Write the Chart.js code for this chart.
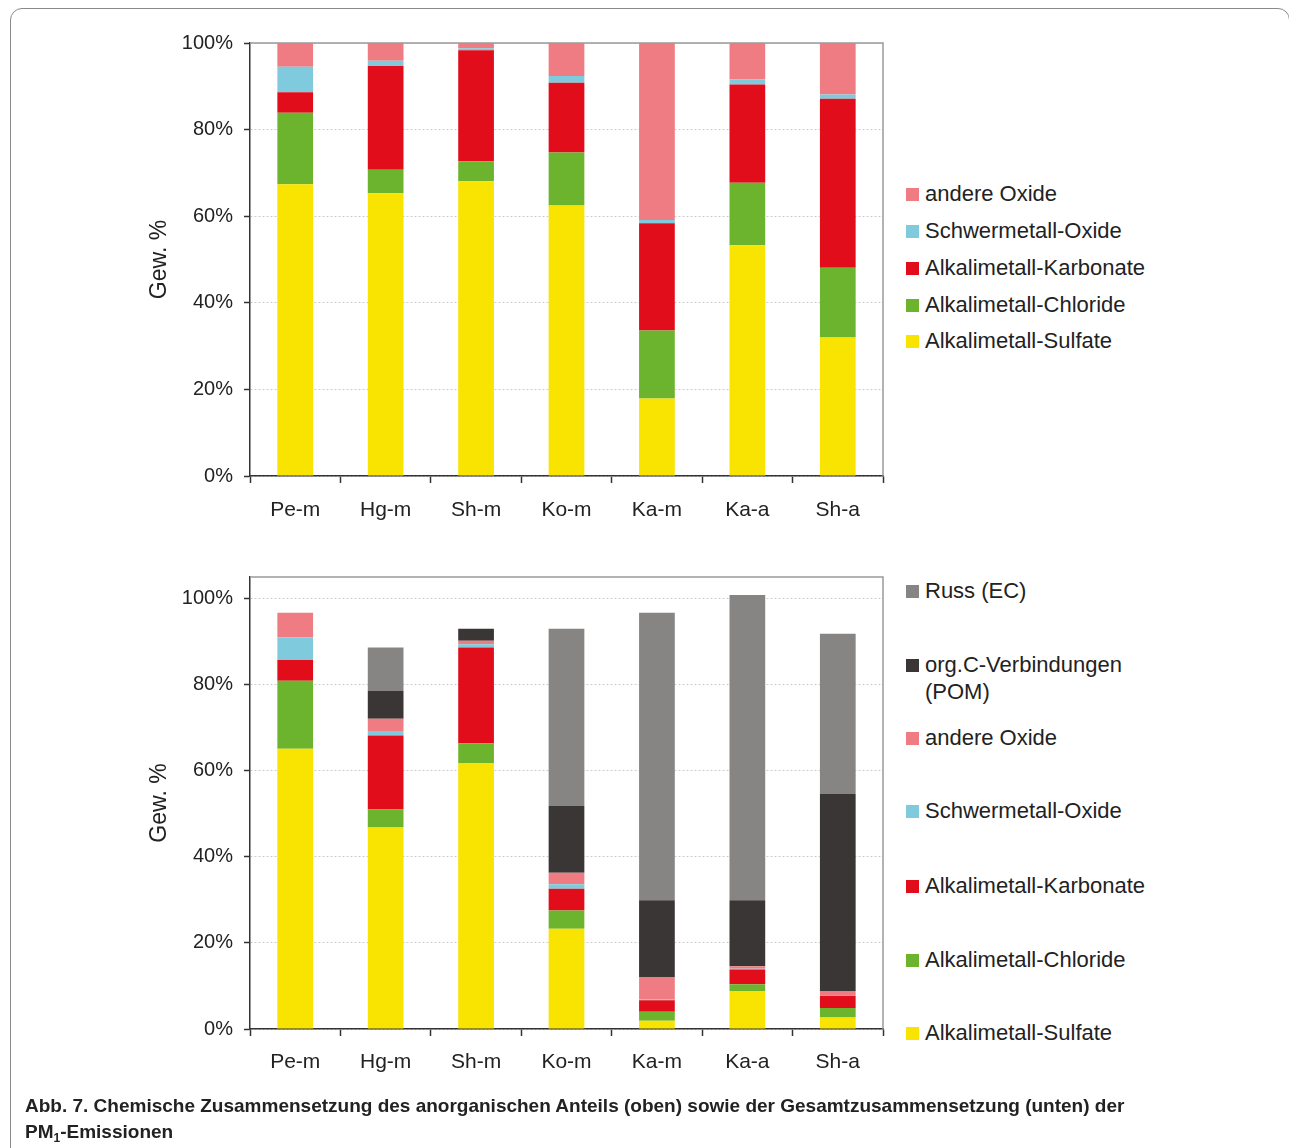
<!DOCTYPE html>
<html>
<head>
<meta charset="utf-8">
<script src="https://cdn.jsdelivr.net/npm/chart.js@4/dist/chart.umd.min.js"></script>
<style>
  html, body { margin: 0; padding: 0; background: #fff; }
  body { width: 1289px; height: 1148px; position: relative; overflow: hidden; font-family: 'Liberation Sans', Arial, sans-serif; }
  .frame { position: absolute; left: 10px; top: 8px; width: 1280px; height: 1200px; border: 1px solid #8a8a8a; border-radius: 12px; box-sizing: border-box; }
  canvas { position: absolute; }
  .legend-item { position: absolute; left: 906px; font-size: 22px; line-height: 27px; color: #222; display: flex; align-items: flex-start; }
  .legend-item .box { width: 13px; height: 13px; margin-right: 6px; margin-top: 8px; flex: none; }
  .legend-item .txt { width: 240px; }
  .caption { position: absolute; left: 25px; top: 1093px; font-family: 'Liberation Sans Narrow', 'Arial Narrow', 'Liberation Sans', sans-serif; font-weight: bold; font-size: 19px; line-height: 26px; color: #222; }
  .caption sub { font-size: 12px; vertical-align: -4px; line-height: 0; }
</style>
</head>
<body>
<div class="frame"></div>
<canvas id="topChart" width="760" height="520" style="left:140px; top:20px;"></canvas>
<canvas id="bottomChart" width="760" height="541" style="left:140px; top:554px;"></canvas>
<div id="legends"></div>
<div class="caption">Abb. 7. Chemische Zusammensetzung des anorganischen Anteils (oben) sowie der Gesamtzusammensetzung (unten) der<br>PM<sub>1</sub>-Emissionen</div>

<script>
// Probes (x axis)
const categories = ['Pe-m', 'Hg-m', 'Sh-m', 'Ko-m', 'Ka-m', 'Ka-a', 'Sh-a'];
const yTicks = [0, 20, 40, 60, 80, 100];

// Upper chart: inorganic fraction, weight %
const topSulfate      = [67.4, 65.3, 68.1, 62.5, 17.9, 53.3, 32.0];
const topChloride     = [16.5,  5.4,  4.6, 12.2, 15.7, 14.4, 16.1];
const topKarbonate    = [ 4.7, 24.0, 25.6, 16.1, 24.8, 22.7, 39.0];
const topSchwermetall = [ 5.9,  1.2,  0.5,  1.6,  0.7,  1.2,  1.0];
const topAndere       = [ 5.5,  4.1,  1.2,  7.6, 40.9,  8.4, 11.9];

// Lower chart: total composition, weight %
const botSulfate      = [65.1, 46.8, 61.8, 23.3,  1.9,  8.8,  2.7];
const botChloride     = [15.8,  4.2,  4.6,  4.2,  2.1,  1.6,  2.2];
const botKarbonate    = [ 4.8, 17.2, 22.2,  5.1,  2.7,  3.4,  2.8];
const botSchwermetall = [ 5.3,  1.0,  0.8,  1.0,  0.2,  0.2,  0.2];
const botAndere       = [ 5.7,  2.9,  0.8,  2.7,  5.2,  0.6,  0.9];
const botPOM          = [ 0.0,  6.4,  2.8, 15.5, 17.8, 15.3, 45.8];
const botEC           = [ 0.0, 10.1,  0.0, 41.2, 66.8, 70.9, 37.2];

const colors = {
    sulfate: '#f8e400',
    chloride: '#6cb42e',
    karbonate: '#e20d1a',
    schwermetall: '#7fcbdd',
    andere: '#ef7c82',
    pom: '#3a3635',
    ec: '#878583'
};

const axisFont = { family: "'Liberation Sans', Arial, sans-serif", size: 20 };
const titleFont = { family: "'Liberation Sans', Arial, sans-serif", size: 23 };
const catFont = { family: "'Liberation Sans Narrow', 'Arial Narrow', 'Liberation Sans', sans-serif", size: 21 };

function ds(label, data, color) {
    return { label: label, data: data, backgroundColor: color, borderWidth: 0 };
}

// gray frame line along the top and right of the plot area
const plotFrame = {
    id: 'plotFrame',
    afterDatasetsDraw(chart) {
        const { ctx, chartArea: a } = chart;
        ctx.save();
        ctx.strokeStyle = '#9a9a9a';
        ctx.lineWidth = 1.5;
        ctx.beginPath();
        ctx.moveTo(a.left, a.top);
        ctx.lineTo(a.right, a.top);
        ctx.lineTo(a.right, a.bottom);
        ctx.stroke();
        ctx.restore();
    }
};

function makeChart(id, datasets, yMax, padTop, xHeight, labelPad) {
    return new Chart(document.getElementById(id), {
        type: 'bar',
        data: { labels: categories, datasets: datasets },
        plugins: [plotFrame],
        options: {
            responsive: false,
            animation: false,
            layout: { padding: { top: padTop, right: 17, left: 0, bottom: 0 } },
            plugins: { legend: { display: false }, tooltip: { enabled: false } },
            datasets: { bar: { categoryPercentage: 1, barPercentage: 0.395 } },
            scales: {
                x: {
                    stacked: true,
                    afterFit: s => { s.height = xHeight; },
                    grid: { offset: true, drawOnChartArea: false, tickLength: 7, tickColor: '#333', tickWidth: 1.5 },
                    border: { color: '#333', width: 1.5 },
                    ticks: { font: catFont, color: '#222', padding: labelPad }
                },
                y: {
                    stacked: true,
                    min: 0,
                    max: yMax,
                    afterFit: s => { s.width = 110; },
                    afterBuildTicks: s => { s.ticks = yTicks.map(v => ({ value: v })); },
                    grid: { color: '#cdcdcd', lineWidth: 1, tickColor: '#333', tickLength: 6, tickWidth: 1.5, tickBorderDash: [] },
                    border: { color: '#333', width: 1.5, dash: [2, 2] },
                    ticks: { font: axisFont, color: '#222', padding: 11, callback: v => v + '%' },
                    title: { display: true, text: 'Gew. %', font: titleFont, color: '#222', padding: { top: 6, bottom: 0 } }
                }
            }
        }
    });
}

const topChart = makeChart('topChart', [
    ds('Alkalimetall-Sulfate', topSulfate, colors.sulfate),
    ds('Alkalimetall-Chloride', topChloride, colors.chloride),
    ds('Alkalimetall-Karbonate', topKarbonate, colors.karbonate),
    ds('Schwermetall-Oxide', topSchwermetall, colors.schwermetall),
    ds('andere Oxide', topAndere, colors.andere)
], 100, 22, 64, 15);

const bottomChart = makeChart('bottomChart', [
    ds('Alkalimetall-Sulfate', botSulfate, colors.sulfate),
    ds('Alkalimetall-Chloride', botChloride, colors.chloride),
    ds('Alkalimetall-Karbonate', botKarbonate, colors.karbonate),
    ds('Schwermetall-Oxide', botSchwermetall, colors.schwermetall),
    ds('andere Oxide', botAndere, colors.andere),
    ds('org.C-Verbindungen (POM)', botPOM, colors.pom),
    ds('Russ (EC)', botEC, colors.ec)
], 105, 11, 66, 14);

// legend entries, top to bottom in reverse stacking order
function buildLegend(chart, rowTops) {
    const holder = document.getElementById('legends');
    const items = chart.data.datasets.slice().reverse();
    items.forEach((d, i) => {
        const row = document.createElement('div');
        row.className = 'legend-item';
        row.style.top = rowTops[i] + 'px';
        const box = document.createElement('span');
        box.className = 'box';
        box.style.background = d.backgroundColor;
        const txt = document.createElement('span');
        txt.className = 'txt';
        txt.style.width = d.label.indexOf('POM') >= 0 ? '215px' : '260px';
        txt.textContent = d.label;
        row.appendChild(box);
        row.appendChild(txt);
        holder.appendChild(row);
    });
}

buildLegend(topChart, [180, 217, 254, 291, 327]);
buildLegend(bottomChart, [577, 651, 724, 797, 872, 946, 1019]);
</script>
</body>
</html>
